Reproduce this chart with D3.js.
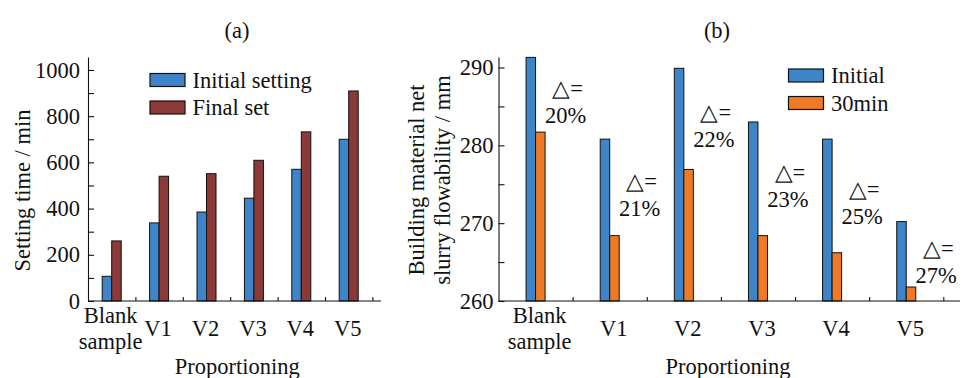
<!DOCTYPE html>
<html>
<head>
<meta charset="utf-8">
<script src="https://cdn.jsdelivr.net/npm/d3@7"></script>
</head>
<body style="margin:0;padding:0;background:#fff">
<svg id="chart" width="965" height="378"></svg>
<script>
// ---------- data ----------
const categories = ["Blank sample", "V1", "V2", "V3", "V4", "V5"];
const initialSetting = [107, 338, 385, 445, 570, 700];
const finalSet = [260, 540, 551, 609, 732, 909];
const flowInitial = [291.3, 280.8, 289.9, 283.0, 280.8, 270.2];
const flow30min = [281.7, 268.4, 276.9, 268.4, 266.2, 261.8];
const deltaLabels = ["20%", "21%", "22%", "23%", "25%", "27%"];
const settingTicks = [0, 200, 400, 600, 800, 1000];
const settingMinorTicks = [100, 300, 500, 700, 900];
const flowTicks = [260, 270, 280, 290];
const flowMinorTicks = [265, 275, 285];
const legendA = ["Initial setting", "Final set"];
const legendB = ["Initial", "30min"];

// ---------- styles ----------
const FONT = '"Liberation Serif", "Times New Roman", Tinos, serif';
const FS = 22.5;
const colBlue = "#3d84c8";
const colRed = "#8c3a38";
const colOrange = "#f07a24";
const barW = 9.5;

const svg = d3.select("#chart").style("font-family", FONT);
svg.append("rect").attr("width", 965).attr("height", 378).attr("fill", "#fff");

function txt(g) {
  return g.append("text").style("font-family", FONT).style("font-size", FS + "px").attr("fill", "#111");
}

function styleAxis(g) {
  g.attr("font-family", null).attr("font-size", null);
  g.selectAll("path, line").attr("stroke", "#111").attr("stroke-width", 1.1);
  g.selectAll("text").style("font-family", FONT).style("font-size", FS + "px").attr("fill", "#111");
}

function panel(opts) {
  const { x0, x1, xAxisEnd, yTop, yBot, yDomain, ticks, minor, padLabel,
          s1, s2, c1, c2, legend, legX, legY, title, titleX, ylabelLines, ylabelX, ylabelY, off } = opts;
  const g = svg.append("g");
  const x = d3.scaleBand().domain(categories).range([x0, x1]).paddingInner(0).paddingOuter(0);
  const xi = d3.scaleLinear().domain([0, categories.length]).range([x0, x1]);
  const y = d3.scaleLinear().domain(yDomain).range([yBot, yTop]);

  // bars
  const data = categories.map((c, i) => ({ c, a: s1[i], b: s2[i] }));
  g.selectAll("rect.b1").data(data).join("rect")
    .attr("x", d => x(d.c) + x.bandwidth() / 2 - barW + off.bar)
    .attr("y", d => y(d.a)).attr("width", barW).attr("height", d => yBot - y(d.a))
    .attr("fill", c1).attr("stroke", "#111").attr("stroke-width", 1);
  g.selectAll("rect.b2").data(data).join("rect")
    .attr("x", d => x(d.c) + x.bandwidth() / 2 + off.bar)
    .attr("y", d => y(d.b)).attr("width", barW).attr("height", d => yBot - y(d.b))
    .attr("fill", c2).attr("stroke", "#111").attr("stroke-width", 1);

  // y axis
  const ya = g.append("g").attr("transform", `translate(${x0},0)`)
    .call(d3.axisLeft(y).tickValues(ticks).tickSizeInner(-6).tickSizeOuter(0).tickPadding(padLabel).tickFormat(d3.format("d")));
  styleAxis(ya);
  const ym = g.append("g").attr("transform", `translate(${x0},0)`)
    .call(d3.axisLeft(y).tickValues(minor).tickSizeInner(-6).tickSizeOuter(0).tickFormat(""));
  ym.select(".domain").remove();
  styleAxis(ym);

  // x axis (boundary ticks)
  const xa = g.append("g").attr("transform", `translate(0,${yBot})`)
    .call(d3.axisBottom(xi).tickValues(d3.range(1, categories.length + 1)).tickSizeInner(-4).tickSizeOuter(0).tickFormat(""));
  xa.select(".domain").attr("d", `M${x0},0H${xAxisEnd}`);
  styleAxis(xa);

  // category labels
  categories.forEach((c) => {
    const cx = x(c) + x.bandwidth() / 2 + off.text;
    const parts = c.split(" ");
    if (parts.length === 2) {
      parts.forEach((p, k) => {
        txt(g).attr("x", cx).attr("y", yBot + 14 + k * 26.5).attr("dy", "0.35em")
          .attr("text-anchor", "middle").text(p);
      });
    } else {
      txt(g).attr("x", cx).attr("y", yBot + 27).attr("dy", "0.35em")
        .attr("text-anchor", "middle").text(c);
    }
  });
  txt(g).attr("x", (x0 + x1) / 2 + opts.xTitleShift).attr("y", 366).attr("dy", "0.35em")
    .attr("text-anchor", "middle").text("Proportioning");

  // title
  txt(g).attr("x", titleX).attr("y", 30).attr("dy", "0.35em")
    .attr("text-anchor", "middle").text(title);

  // y label
  ylabelLines.forEach((t, k) => {
    txt(g).attr("transform", `translate(${ylabelX[k]},${ylabelY}) rotate(-90)`)
      .attr("dy", "0.35em").attr("text-anchor", "middle").text(t);
  });

  // legend
  const lg = g.append("g").attr("transform", `translate(${legX},${legY})`);
  legend.forEach((t, k) => {
    lg.append("rect").attr("x", 0).attr("y", k * 27.5).attr("width", 35).attr("height", 13)
      .attr("fill", k === 0 ? c1 : c2).attr("stroke", "#111").attr("stroke-width", 1.2);
    txt(lg).attr("x", 42.5).attr("y", k * 27.5 + 6.5).attr("dy", "0.35em").text(t);
  });
  return { g, x, y };
}

// panel (a)
panel({
  x0: 88, x1: 372.4, xAxisEnd: 381, yTop: 57, yBot: 301, yDomain: [0, 1056],
  ticks: settingTicks, minor: settingMinorTicks, padLabel: 8,
  s1: initialSetting, s2: finalSet, c1: colBlue, c2: colRed,
  legend: legendA, legX: 150, legY: 73.5, title: "(a)", titleX: 237,
  ylabelLines: ["Setting time / min"], ylabelX: [22.5], ylabelY: 190.5,
  off: { bar: 0, text: -1 }, xTitleShift: 7
});

// panel (b)
const pb = panel({
  x0: 498.5, x1: 943.3, xAxisEnd: 960, yTop: 57, yBot: 301, yDomain: [260, 291.35],
  ticks: flowTicks, minor: flowMinorTicks, padLabel: 5,
  s1: flowInitial, s2: flow30min, c1: colBlue, c2: colOrange,
  legend: legendB, legX: 788.5, legY: 69, title: "(b)", titleX: 717,
  ylabelLines: ["Building material net", "slurry flowability / mm"], ylabelX: [416, 442], ylabelY: 180,
  off: { bar: 0, text: 4 }, xTitleShift: 7
});

// delta annotations (placed between the two bar tops of each group)
categories.forEach((c, i) => {
  const cx = pb.x(c) + pb.x.bandwidth() / 2;
  const my = pb.y((flowInitial[i] + flow30min[i]) / 2) - 6.5;
  txt(pb.g).attr("x", cx + 32).attr("y", my).attr("dy", "0.35em")
    .attr("text-anchor", "middle").text("\u25B3=");
  txt(pb.g).attr("x", cx + 30).attr("y", my + 27).attr("dy", "0.35em")
    .attr("text-anchor", "middle").text(deltaLabels[i]);
});
</script>
</body>
</html>
